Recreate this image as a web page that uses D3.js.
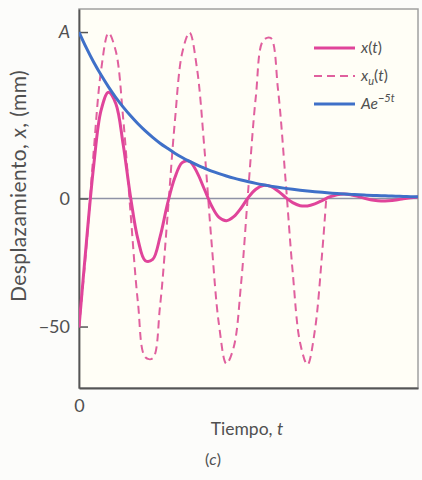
<!DOCTYPE html>
<html>
<head>
<meta charset="utf-8">
<script src="https://cdn.jsdelivr.net/npm/d3@7"></script>
<style>
  body { margin: 0; background: #fcfcfa; }
  svg { display: block; font-family: Lato, "Open Sans", sans-serif; }
</style>
</head>
<body>
<svg id="chart" width="422" height="480"></svg>
<script>
// Time samples (s)
const time = [0,0.02,0.04,0.06,0.08,0.10,0.12,0.14,0.16,0.18,0.20,0.22,0.24,0.26,0.28,0.30,
  0.32,0.34,0.36,0.38,0.40,0.42,0.44,0.46,0.48,0.50,0.52,0.54,0.56,0.58,0.60,0.62,0.64,0.66,
  0.68,0.70,0.72,0.74,0.76,0.78,0.80,0.82,0.84,0.86,0.88,0.90,0.92];

// Damped displacement x(t), mm
const xDamped = [-50.3,-17.2,13.0,34.5,41.5,37.0,21.0,0.5,-16.0,-24.3,-23.8,-15.0,-2.2,8.1,14.0,14.5,
  10.3,3.7,-2.9,-7.4,-8.7,-7.1,-3.7,0.5,3.6,5.1,4.7,2.9,0.5,-1.6,-2.8,-2.9,-2.1,-0.8,
  0.6,1.5,1.8,1.4,0.7,-0.1,-0.7,-1.0,-0.9,-0.6,-0.1,0.3,0.6];

// Undamped displacement x_u(t), mm (drawn until it returns to zero)
const timeUndamped = [0,0.02,0.04,0.06,0.08,0.10,0.12,0.14,0.16,0.18,0.20,0.22,0.24,0.26,0.28,0.30,
  0.32,0.34,0.36,0.38,0.40,0.42,0.44,0.46,0.48,0.50,0.52,0.54,0.56,0.58,0.60,0.62,0.64,0.66,0.671];
const xUndamped = [-50.3,-19.0,18.7,50.1,64.6,57.5,31.1,-5.8,-40.7,-62.0,-62.4,-41.9,-7.3,29.8,56.8,64.8,
  51.0,20.1,-17.6,-49.4,-64.5,-58.0,-33.0,4.7,39.9,61.7,62.7,42.7,8.3,-28.8,-56.3,-64.9,-51.6,-21.1,0];

// Envelope A e^{-5t}, mm
const envelope = [65.0,58.8,53.2,48.2,43.6,39.4,35.7,32.3,29.2,26.4,23.9,21.6,19.6,17.7,16.0,14.5,
  13.1,11.9,10.7,9.7,8.8,7.96,7.20,6.52,5.90,5.34,4.83,4.37,3.95,3.58,3.24,2.93,2.65,2.40,
  2.17,1.96,1.78,1.61,1.45,1.31,1.19,1.08,0.98,0.88,0.80,0.72,0.65];

const yTickValues = [65, 0, -50];
const yTickLabels = ["A", "0", "\u221250"];
const xTickValues = [0];
const xTickLabels = ["0"];

const svg = d3.select("#chart");
const plotLeft = 79, plotRight = 418, plotTop = 9, plotBottom = 388;
const textColor = "#505050";

const x = d3.scaleLinear().domain([0, 0.92]).range([plotLeft, plotRight]);
const y = d3.scaleLinear().domain([-74, 74]).range([plotBottom, plotTop]);

// plot background and frame
svg.append("rect").attr("x", plotLeft).attr("y", plotTop)
  .attr("width", plotRight - plotLeft).attr("height", plotBottom - plotTop)
  .attr("fill", "#fffef6").attr("stroke", "#a0a0a0").attr("stroke-width", 1.5);

svg.append("defs").append("clipPath").attr("id", "plotClip")
  .append("rect").attr("x", plotLeft).attr("y", plotTop - 4)
  .attr("width", plotRight - plotLeft).attr("height", plotBottom - plotTop + 8);

// zero reference line
svg.append("line")
  .attr("x1", x(0)).attr("x2", x(0.92)).attr("y1", y(0)).attr("y2", y(0))
  .attr("stroke", "#8f93a6").attr("stroke-width", 1.3);

// axes
const yAxis = d3.axisLeft(y).tickValues(yTickValues)
  .tickFormat((d, i) => yTickLabels[i]).tickSizeInner(-9).tickSizeOuter(0).tickPadding(9);
const gy = svg.append("g").attr("transform", `translate(${plotLeft},0)`).call(yAxis);
gy.select(".domain").attr("stroke", "#555").attr("stroke-width", 1.8);
gy.selectAll(".tick line").attr("stroke", "#555").attr("stroke-width", 1.5);
gy.selectAll(".tick text").attr("fill", textColor).attr("font-size", 18)
  .attr("font-family", "Lato, sans-serif")
  .attr("font-style", (d, i) => yTickLabels[i] === "A" ? "italic" : "normal");

const xAxis = d3.axisBottom(x).tickValues(xTickValues)
  .tickFormat((d, i) => xTickLabels[i]).tickSize(0).tickPadding(11);
const gx = svg.append("g").attr("transform", `translate(0,${plotBottom})`).call(xAxis);
gx.select(".domain").attr("stroke", "#555").attr("stroke-width", 1.8);
gx.selectAll(".tick text").attr("fill", textColor).attr("font-size", 18)
  .attr("font-family", "Lato, sans-serif");

// curves
const line = d3.line().x(d => x(d[0])).y(d => y(d[1])).curve(d3.curveCatmullRom.alpha(0.5));
const curves = svg.append("g").attr("clip-path", "url(#plotClip)");

curves.append("path").datum(timeUndamped.map((t, i) => [t, xUndamped[i]]))
  .attr("d", line).attr("fill", "none")
  .attr("stroke", "#e0609e").attr("stroke-width", 2).attr("stroke-dasharray", "8,5");

curves.append("path").datum(time.map((t, i) => [t, xDamped[i]]))
  .attr("d", line).attr("fill", "none")
  .attr("stroke", "#e0449a").attr("stroke-width", 3);

curves.append("path").datum(time.map((t, i) => [t, envelope[i]]))
  .attr("d", line).attr("fill", "none")
  .attr("stroke", "#3f70c8").attr("stroke-width", 3);

// legend: [text, style, baseline shift]
const legendRows = [
  { color: "#e0449a", dash: null, w: 3, parts: [["x", "italic", 0], ["(", "normal", 0], ["t", "italic", 0], [")", "normal", 0]] },
  { color: "#e0609e", dash: "8,5", w: 2, parts: [["x", "italic", 0], ["u", "italic", 4], ["(", "normal", -4], ["t", "italic", 0], [")", "normal", 0]] },
  { color: "#3f70c8", dash: null, w: 3, parts: [["A", "italic", 0], ["e", "italic", 0], ["\u22125t", "italic", -7]] }
];
const legend = svg.append("g");
legendRows.forEach((r, i) => {
  const yy = 48 + i * 28;
  legend.append("line").attr("x1", 314).attr("x2", 355).attr("y1", yy).attr("y2", yy)
    .attr("stroke", r.color).attr("stroke-width", r.w)
    .attr("stroke-dasharray", r.dash);
  const txt = legend.append("text").attr("x", 361).attr("y", yy + 5)
    .attr("font-size", 15.5).attr("fill", textColor);
  r.parts.forEach(p => {
    const ts = txt.append("tspan").text(p[0]).attr("font-style", p[1]).attr("dy", p[2]);
    if (p[2] > 0 || p[2] < -5) ts.attr("font-size", 11);
  });
});

// axis titles
const yTitle = svg.append("text")
  .attr("transform", `translate(26,186) rotate(-90)`)
  .attr("text-anchor", "middle").attr("font-size", 21).attr("letter-spacing", 0.4)
  .attr("fill", textColor);
yTitle.append("tspan").text("Desplazamiento, ");
yTitle.append("tspan").text("x").attr("font-style", "italic");
yTitle.append("tspan").text(", (mm)");

const xTitle = svg.append("text")
  .attr("x", 247).attr("y", 435)
  .attr("text-anchor", "middle").attr("font-size", 17.5).attr("fill", textColor);
xTitle.append("tspan").text("Tiempo, ");
xTitle.append("tspan").text("t").attr("font-style", "italic");

const caption = svg.append("text").attr("x", 213).attr("y", 465)
  .attr("text-anchor", "middle").attr("font-size", 16).attr("fill", textColor);
caption.append("tspan").text("(");
caption.append("tspan").text("c").attr("font-style", "italic");
caption.append("tspan").text(")");
</script>
</body>
</html>
